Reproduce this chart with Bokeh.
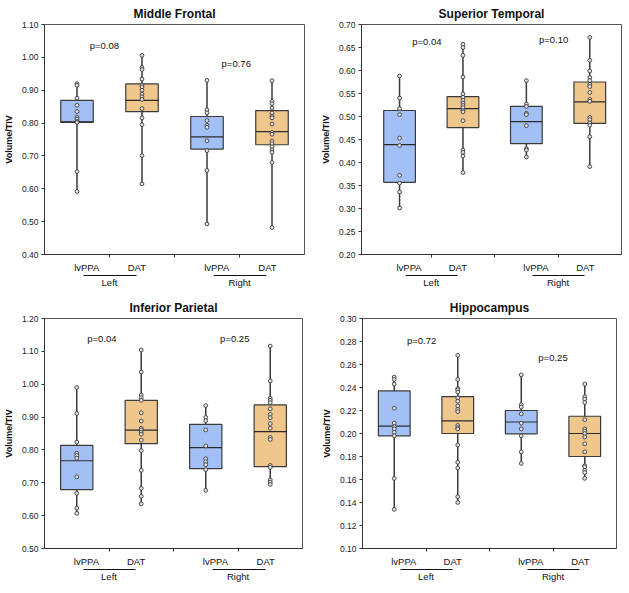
from bokeh.plotting import figure
from bokeh.models import FixedTicker, LinearAxis, Label, Range1d, NumeralTickFormatter
from bokeh.layouts import column, row
from bokeh.embed import file_html
from bokeh.resources import INLINE

# ---------------- data ----------------
POSITIONS = [1, 2, 3, 4]                      # lvPPA-L, DAT-L, lvPPA-R, DAT-R
GROUP_COLORS = ["#a3c0f6", "#efc68c", "#a3c0f6", "#efc68c"]
CAT_TICKS = [1.15, 1.92, 3.15, 3.93]
CAT_LABELS = ["lvPPA", "DAT", "lvPPA", "DAT"]
SIDE_TICKS = [1.5, 3.5]
SIDE_LABELS = ["Left", "Right"]
SIDE_SPANS = [(1.10, 1.91), (3.10, 3.92)]
DIVIDER_TICKS = [1.5, 2.5, 3.5]

# Middle Frontal
MF_TITLE = "Middle Frontal"
MF_YTICKS = [0.40, 0.50, 0.60, 0.70, 0.80, 0.90, 1.00, 1.10]
MF_LVPPA_L = [0.920, 0.915, 0.876, 0.854, 0.835, 0.818, 0.812, 0.805, 0.802, 0.652, 0.592]
MF_DAT_L = [1.006, 0.969, 0.963, 0.934, 0.916, 0.910, 0.900, 0.888, 0.880, 0.872, 0.844, 0.816, 0.795, 0.701, 0.615]
MF_LVPPA_R = [0.930, 0.840, 0.831, 0.808, 0.793, 0.787, 0.746, 0.716, 0.656, 0.493]
MF_DAT_R = [0.929, 0.866, 0.859, 0.846, 0.831, 0.821, 0.816, 0.797, 0.771, 0.766, 0.745, 0.737, 0.728, 0.718, 0.711, 0.680, 0.482]
MF_Q1 = [0.802, 0.835, 0.721, 0.734]
MF_MED = [0.804, 0.869, 0.758, 0.774]
MF_Q3 = [0.869, 0.919, 0.820, 0.838]
MF_P_TEXT = ["p=0.08", "p=0.76"]
MF_P_X = [1.42, 3.45]
MF_P_Y = [1.035, 0.982]

# Superior Temporal
ST_TITLE = "Superior Temporal"
ST_YTICKS = [0.20, 0.25, 0.30, 0.35, 0.40, 0.45, 0.50, 0.55, 0.60, 0.65, 0.70]
ST_LVPPA_L = [0.588, 0.540, 0.517, 0.504, 0.453, 0.437, 0.372, 0.355, 0.336, 0.301]
ST_DAT_L = [0.657, 0.650, 0.633, 0.586, 0.549, 0.542, 0.535, 0.529, 0.524, 0.519, 0.513, 0.510, 0.491, 0.427, 0.422, 0.414, 0.378]
ST_LVPPA_R = [0.578, 0.527, 0.522, 0.507, 0.504, 0.480, 0.430, 0.427, 0.412]
ST_DAT_R = [0.672, 0.622, 0.599, 0.585, 0.578, 0.570, 0.565, 0.552, 0.537, 0.533, 0.498, 0.493, 0.486, 0.481, 0.456, 0.391]
ST_Q1 = [0.357, 0.476, 0.441, 0.485]
ST_MED = [0.439, 0.517, 0.489, 0.532]
ST_Q3 = [0.513, 0.543, 0.522, 0.575]
ST_P_TEXT = ["p=0.04", "p=0.10"]
ST_P_X = [1.43, 3.43]
ST_P_Y = [0.663, 0.668]

# Inferior Parietal
IP_TITLE = "Inferior Parietal"
IP_YTICKS = [0.50, 0.60, 0.70, 0.80, 0.90, 1.00, 1.10, 1.20]
IP_LVPPA_L = [0.990, 0.911, 0.824, 0.790, 0.783, 0.775, 0.718, 0.668, 0.623, 0.607]
IP_DAT_L = [1.104, 1.037, 0.967, 0.959, 0.951, 0.913, 0.888, 0.866, 0.861, 0.854, 0.848, 0.830, 0.798, 0.738, 0.683, 0.659, 0.636]
IP_LVPPA_R = [0.935, 0.899, 0.889, 0.861, 0.812, 0.773, 0.764, 0.755, 0.740, 0.677]
IP_DAT_R = [1.116, 1.010, 0.957, 0.951, 0.944, 0.925, 0.908, 0.898, 0.880, 0.866, 0.838, 0.832, 0.753, 0.747, 0.709, 0.702, 0.695]
IP_Q1 = [0.679, 0.819, 0.743, 0.749]
IP_MED = [0.767, 0.860, 0.807, 0.856]
IP_Q3 = [0.814, 0.951, 0.878, 0.937]
IP_P_TEXT = ["p=0.04", "p=0.25"]
IP_P_X = [1.39, 3.45]
IP_P_Y = [1.139, 1.139]

# Hippocampus
HC_TITLE = "Hippocampus"
HC_YTICKS = [0.10, 0.12, 0.14, 0.16, 0.18, 0.20, 0.22, 0.24, 0.26, 0.28, 0.30]
HC_LVPPA_L = [0.249, 0.247, 0.243, 0.222, 0.209, 0.206, 0.204, 0.201, 0.198, 0.161, 0.134]
HC_DAT_L = [0.268, 0.247, 0.239, 0.238, 0.236, 0.231, 0.228, 0.224, 0.221, 0.219, 0.207, 0.205, 0.204, 0.190, 0.175, 0.170, 0.145, 0.140]
HC_LVPPA_R = [0.251, 0.225, 0.223, 0.217, 0.209, 0.204, 0.198, 0.184, 0.174]
HC_DAT_R = [0.243, 0.232, 0.230, 0.227, 0.212, 0.204, 0.202, 0.200, 0.197, 0.191, 0.184, 0.172, 0.171, 0.168, 0.166, 0.161]
HC_Q1 = [0.198, 0.200, 0.1997, 0.180]
HC_MED = [0.2065, 0.211, 0.210, 0.200]
HC_Q3 = [0.237, 0.232, 0.220, 0.215]
HC_P_TEXT = ["p=0.72", "p=0.25"]
HC_P_X = [1.43, 3.50]
HC_P_Y = [0.281, 0.266]

FONT = "Liberation Sans"
BOX_W = 0.5


def make_panel(title, yticks, groups, q1, med, q3, ptext, px, py, x_start,
               frame_w, frame_h, mb_left, mb_right, mb_top, mb_bottom):
    ystart, yend = yticks[0], yticks[-1]
    p = figure(frame_width=frame_w, frame_height=frame_h,
               x_range=Range1d(x_start, 4.5), y_range=Range1d(ystart, yend),
               output_backend="svg", toolbar_location=None,
               min_border_left=mb_left, min_border_right=mb_right,
               min_border_top=mb_top, min_border_bottom=mb_bottom,
               background_fill_color="white", border_fill_color="white")
    p.title.text = title
    p.title.align = "center"
    p.title.text_font = FONT
    p.title.text_font_size = "12px"
    p.title.text_font_style = "bold"
    p.title.text_color = "#111111"
    p.title.standoff = 8
    p.outline_line_color = "#555555"
    p.outline_line_width = 1
    p.xgrid.visible = False
    p.ygrid.visible = False

    # y axis
    p.yaxis.ticker = FixedTicker(ticks=yticks)
    p.yaxis.formatter = NumeralTickFormatter(format="0.00")
    p.yaxis.axis_label = "Volume/TIV"
    p.yaxis.axis_label_text_font = FONT
    p.yaxis.axis_label_text_font_size = "9px"
    p.yaxis.axis_label_text_font_style = "bold"
    p.yaxis.axis_label_text_color = "#111111"
    p.yaxis.axis_label_standoff = 5
    p.yaxis.major_label_text_font = FONT
    p.yaxis.major_label_text_font_size = "8.5px"
    p.yaxis.major_label_text_color = "#222222"
    p.yaxis.major_label_standoff = 3
    p.yaxis.major_tick_in = 0
    p.yaxis.major_tick_out = 3
    p.yaxis.minor_tick_line_color = None
    p.yaxis.axis_line_color = "#333333"
    p.yaxis.major_tick_line_color = "#333333"

    # x axis: category labels + divider ticks
    p.xaxis.ticker = FixedTicker(ticks=CAT_TICKS, minor_ticks=DIVIDER_TICKS)
    p.xaxis.major_label_overrides = {t: l for t, l in zip(CAT_TICKS, CAT_LABELS)}
    p.xaxis.major_tick_line_color = None
    p.xaxis.major_tick_in = 0
    p.xaxis.major_tick_out = 3
    p.xaxis.minor_tick_in = 0
    p.xaxis.minor_tick_out = 3
    p.xaxis.minor_tick_line_color = "#333333"
    p.xaxis.axis_line_color = "#333333"
    p.xaxis.major_label_text_font = FONT
    p.xaxis.major_label_text_font_size = "9.5px"
    p.xaxis.major_label_text_color = "#111111"
    p.xaxis.major_label_standoff = 4

    # underline axes (zero-height, line only, bounded to each side group)
    for (a, b) in SIDE_SPANS:
        ul = LinearAxis(ticker=FixedTicker(ticks=[]), bounds=(a, b),
                        axis_line_color="#111111", axis_line_width=1,
                        major_tick_in=0, major_tick_out=0, minor_tick_in=0, minor_tick_out=0,
                        major_tick_line_color=None, minor_tick_line_color=None,
                        major_label_standoff=0, major_label_text_font_size="0px")
        p.add_layout(ul, "below")

    side_axis = LinearAxis(ticker=FixedTicker(ticks=SIDE_TICKS),
                           major_label_overrides={t: l for t, l in zip(SIDE_TICKS, SIDE_LABELS)},
                           axis_line_color=None, major_tick_line_color=None,
                           minor_tick_line_color=None, major_tick_in=0, major_tick_out=0,
                           minor_tick_in=0, minor_tick_out=0,
                           major_label_standoff=1, major_label_text_font=FONT,
                           major_label_text_font_size="9.5px", major_label_text_color="#111111")
    p.add_layout(side_axis, "below")

    half = BOX_W / 2
    for i, pts in enumerate(groups):
        x = POSITIONS[i]
        hi, lo = max(pts), min(pts)
        # whiskers
        p.segment(x0=[x, x], y0=[q3[i], q1[i]], x1=[x, x], y1=[hi, lo],
                  line_color="#3a3a3a", line_width=1.5)
        # box
        p.vbar(x=[x], width=BOX_W, bottom=[q1[i]], top=[q3[i]],
               fill_color=GROUP_COLORS[i], line_color="#3a3a3a", line_width=1.2)
        # median
        p.segment(x0=[x - half], y0=[med[i]], x1=[x + half], y1=[med[i]],
                  line_color="#2a2a2a", line_width=1.2)
        # points
        p.scatter(x=[x] * len(pts), y=pts, marker="circle", size=3.8,
                  fill_color="#e4e4e4", line_color="#3a3a3a", line_width=0.9)

    for t, xx, yy in zip(ptext, px, py):
        p.add_layout(Label(x=xx, y=yy, text=t, text_align="center", text_baseline="middle",
                           text_font=FONT, text_font_size="9.5px", text_color="#111111"))
    return p


pa = make_panel(MF_TITLE, MF_YTICKS, [MF_LVPPA_L, MF_DAT_L, MF_LVPPA_R, MF_DAT_R],
                MF_Q1, MF_MED, MF_Q3, MF_P_TEXT, MF_P_X, MF_P_Y, 0.5,
                260, 230, 37, 13, 20, 35)
pb = make_panel(ST_TITLE, ST_YTICKS, [ST_LVPPA_L, ST_DAT_L, ST_LVPPA_R, ST_DAT_R],
                ST_Q1, ST_MED, ST_Q3, ST_P_TEXT, ST_P_X, ST_P_Y, 0.40,
                260, 230, 40, 3, 20, 35)
pc = make_panel(IP_TITLE, IP_YTICKS, [IP_LVPPA_L, IP_DAT_L, IP_LVPPA_R, IP_DAT_R],
                IP_Q1, IP_MED, IP_Q3, IP_P_TEXT, IP_P_X, IP_P_Y, 0.5,
                258, 230, 38, 14, 28, 34)
pd = make_panel(HC_TITLE, HC_YTICKS, [HC_LVPPA_L, HC_DAT_L, HC_LVPPA_R, HC_DAT_R],
                HC_Q1, HC_MED, HC_Q3, HC_P_TEXT, HC_P_X, HC_P_Y, 0.5,
                254, 230, 46, 3, 28, 34)

layout = column(row(pa, pb), row(pc, pd))
open("out.html", "w").write(file_html(layout, INLINE))
